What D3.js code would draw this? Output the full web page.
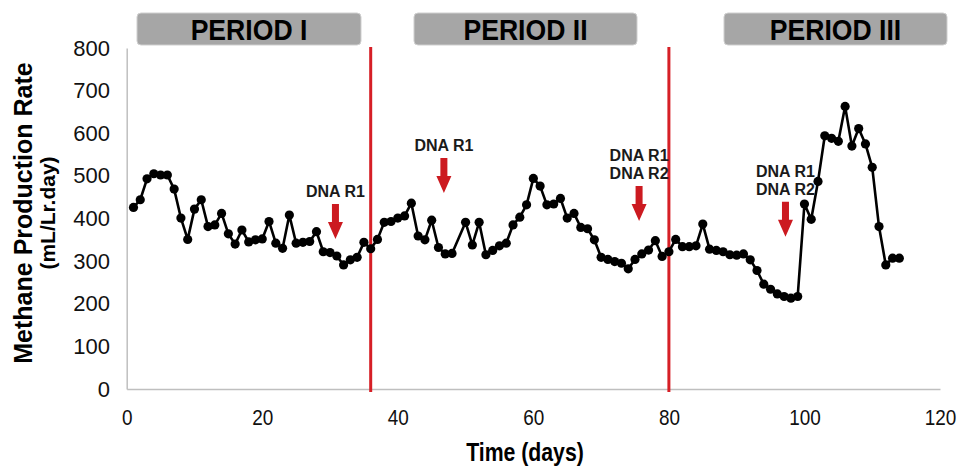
<!DOCTYPE html>
<html>
<head>
<meta charset="utf-8">
<script src="https://cdn.jsdelivr.net/npm/d3@7/dist/d3.min.js"></script>
<style>
  html, body { margin: 0; padding: 0; background: #fff; }
  svg { display: block; font-family: "Liberation Sans", Arial, sans-serif; }
</style>
</head>
<body>
<svg id="chart" width="960" height="468"></svg>
<script>
// ---- data ----
const days = [1,2,3,4,5,6,7,8,9,10,11,12,13,14,15,16,17,18,19,20,21,22,23,24,25,26,27,28,29,30,
  31,32,33,34,35,36,37,38,39,40,41,42,43,44,45,46,47,48,50,51,52,53,54,55,56,57,58,59,60,
  61,62,63,64,65,66,67,68,69,70,71,72,73,74,75,76,77,78,79,80,81,82,83,84,85,86,87,88,89,90,
  91,92,93,94,95,96,97,98,99,100,101,102,103,104,105,106,107,108,109,110,111,112,113,114];
const methaneRate = [426,444,493,505,502,502,469,401,351,422,444,381,385,412,364,340,373,345,350,352,
  393,342,330,408,342,344,346,369,322,320,312,291,303,309,344,329,351,391,393,401,
  406,436,359,350,396,332,317,318,391,338,391,315,325,336,342,385,403,432,494,
  476,432,434,447,401,412,379,376,350,309,304,299,295,282,304,317,326,348,311,322,
  351,334,334,336,387,328,325,322,315,314,317,303,278,246,234,223,217,213,217,434,
  398,487,594,588,581,663,570,611,575,520,381,291,307,307];
const xTicks = [0,20,40,60,80,100,120];
const yTicks = [0,100,200,300,400,500,600,700,800];
const periodDividers = [36, 80];
const periodNames = ["PERIOD I", "PERIOD II", "PERIOD III"];
const doseDays = [30.8, 46.8, 75.6, 97.2];
const doseValues = [352, 460, 394, 357];
const doseLabels = [["DNA R1"], ["DNA R1"], ["DNA R1","DNA R2"], ["DNA R1","DNA R2"]];

// ---- layout ----
const svg = d3.select("#chart");
const x = d3.scaleLinear().domain([0,120]).range([126.7, 940]);
const y = d3.scaleLinear().domain([0,800]).range([389, 48]);
const axisColor = "#bfbfbf";
const red = "#d61f26";

// period header boxes
const boxes = [[137,361],[414,637],[724,947]];
const hdr = svg.append("g");
boxes.forEach((b,i) => {
  hdr.append("rect").attr("x", b[0]).attr("y", 13).attr("width", b[1]-b[0]).attr("height", 32)
    .attr("rx", 4).attr("fill", "#a6a6a6").attr("stroke", "#cfcfcf").attr("stroke-width", 1);
  hdr.append("text").attr("transform", `translate(${(b[0]+b[1])/2},39.5) scale(0.95,1.08)`)
    .attr("text-anchor", "middle")
    .attr("font-size", 28).attr("font-weight", "bold").attr("fill", "#000").text(periodNames[i]);
});

// axes
const yAxis = d3.axisLeft(y).tickValues(yTicks).tickSize(0).tickSizeOuter(0).tickPadding(16.7);
const gy = svg.append("g").attr("transform", `translate(${x(0)},0)`).call(yAxis);
gy.select(".domain").attr("stroke", axisColor).attr("stroke-width", 1.5);
gy.selectAll("text").attr("font-size", 22).attr("font-family", "Liberation Sans, Arial, sans-serif").attr("fill", "#111");

const xAxis = d3.axisBottom(x).tickValues(xTicks).tickSize(0).tickSizeOuter(0).tickPadding(20);
const gx = svg.append("g").attr("transform", `translate(0,${y(0)})`).call(xAxis);
gx.select(".domain").attr("stroke", axisColor).attr("stroke-width", 1.5);
gx.selectAll("text").attr("font-size", 22).attr("font-family", "Liberation Sans, Arial, sans-serif")
  .attr("fill", "#111").attr("transform", "scale(0.86,1)");

// period dividers
svg.append("g").selectAll("line").data(periodDividers).join("line")
  .attr("x1", d => x(d)).attr("x2", d => x(d))
  .attr("y1", y(800) - 1).attr("y2", y(0) + 3)
  .attr("stroke", red).attr("stroke-width", 3);

// series
const pts = days.map((d,i) => [d, methaneRate[i]]);
svg.append("path").datum(pts)
  .attr("fill", "none").attr("stroke", "#000").attr("stroke-width", 2.6)
  .attr("stroke-linejoin", "round")
  .attr("d", d3.line().x(d => x(d[0])).y(d => y(d[1])));
svg.append("g").selectAll("circle").data(pts).join("circle")
  .attr("cx", d => x(d[0])).attr("cy", d => y(d[1])).attr("r", 4.6).attr("fill", "#000");

// dosing arrows + labels
const ann = svg.append("g");
doseDays.forEach((dd,i) => {
  const cx = x(dd), tip = y(doseValues[i]);
  const len = 35, head = 17, hw = 7.5, sw = 3.5;
  const top = tip - len;
  ann.append("path")
    .attr("d", `M${cx-sw},${top} L${cx+sw},${top} L${cx+sw},${tip-head} L${cx+hw},${tip-head} L${cx},${tip} L${cx-hw},${tip-head} L${cx-sw},${tip-head} Z`)
    .attr("fill", "#cc1a20");
  const lines = doseLabels[i];
  lines.forEach((t,j) => {
    ann.append("text").attr("x", cx).attr("y", top - 7 - (lines.length-1-j)*18.3)
      .attr("text-anchor", "middle").attr("font-size", 16).attr("font-weight", "bold")
      .attr("fill", "#1a1a1a").text(t);
  });
});

// axis titles
svg.append("text").attr("transform", "translate(525,461) scale(0.85,1)")
  .attr("text-anchor", "middle").attr("font-size", 25).attr("font-weight", "bold").text("Time (days)");
svg.append("text").attr("transform", "translate(32,213) rotate(-90)")
  .attr("text-anchor", "middle").attr("font-size", 25).attr("font-weight", "bold").text("Methane Production Rate");
svg.append("text").attr("transform", "translate(55,213) rotate(-90)")
  .attr("text-anchor", "middle").attr("font-size", 21).attr("font-weight", "bold").text("(mL/Lr.day)");
</script>
</body>
</html>
